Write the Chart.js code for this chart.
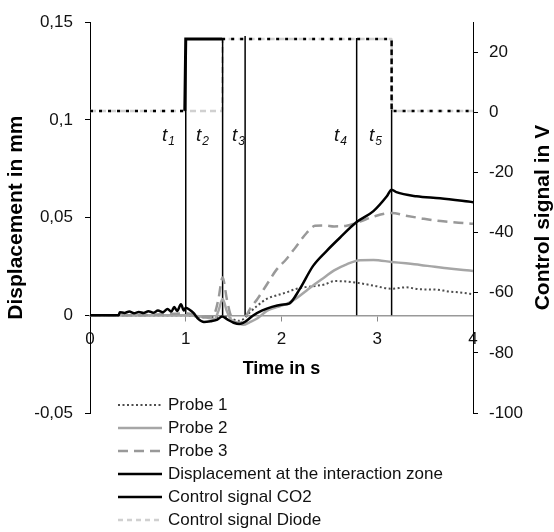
<!DOCTYPE html>
<html>
<head>
<meta charset="utf-8">
<script src="https://cdn.jsdelivr.net/npm/chart.js@4"></script>
<style>
  body { margin: 0; background: #fff; }
  canvas { display: block; }
</style>
</head>
<body>
<canvas id="chart" width="554" height="532" style="width:554px;height:532px"></canvas>
<script>
// probe measurements (displacement in mm over time in s)
const timeProbe = [0, 0.5, 1.0, 1.2, 1.3, 1.34, 1.385, 1.43, 1.47, 1.55, 1.6, 1.67, 1.75, 1.85, 1.95,
  2.05, 2.15, 2.26, 2.35, 2.45, 2.55, 2.68, 2.82, 2.96, 3.15, 3.3, 3.45, 3.6, 3.75, 3.9, 4.0]
const probe1 = [0, 0, 0, -0.001, -0.001, -0.001, -0.0008, -0.001, -0.0015, -0.0028, -0.002, 0.0015, 0.005, 0.0085, 0.0102,
  0.0117, 0.0135, 0.0145, 0.015, 0.0158, 0.0175, 0.0173, 0.0164, 0.0152, 0.0136, 0.0143, 0.0133, 0.0132, 0.0122, 0.0115, 0.0108]
const probe2 = [0, 0, 0, -0.001, -0.002, 0.002, 0.0083, 0.002, -0.002, -0.004, -0.0049, -0.0035, -0.0015, 0.0024, 0.0042,
  0.0058, 0.0085, 0.0126, 0.016, 0.0195, 0.023, 0.0261, 0.0282, 0.0283, 0.0273, 0.0266, 0.0258, 0.0248, 0.024, 0.0232, 0.0227]
const probe3 = [0, 0, 0.001, -0.001, 0.001, 0.008, 0.0193, 0.008, 0, -0.004, -0.003, 0.0032, 0.0085, 0.016, 0.0235,
  0.0287, 0.035, 0.042, 0.0458, 0.046, 0.0455, 0.0458, 0.048, 0.0505, 0.0524, 0.051, 0.0497, 0.0485, 0.0478, 0.0472, 0.0468]

// displacement at the interaction zone (noisier, sampled finer)
const timeDisp = [0, 0.3, 0.31, 0.36, 0.41, 0.46, 0.51, 0.56, 0.61, 0.66, 0.71, 0.76, 0.81, 0.85, 0.88, 0.91,
  0.95, 0.98, 1.0, 1.04, 1.08, 1.13, 1.19, 1.26, 1.33, 1.38, 1.43, 1.5, 1.56, 1.63, 1.7, 1.8, 1.9, 2.0,
  2.08, 2.19, 2.33, 2.47, 2.61, 2.785, 2.96, 3.1, 3.15, 3.2, 3.41, 3.655, 4.0]
const dispZone = [0, 0, 0.0016, 0.0012, 0.0019, 0.0011, 0.0017, 0.0012, 0.0021, 0.0013, 0.0024, 0.0016, 0.0032, 0.0019, 0.0042, 0.0022,
  0.0056, 0.0024, 0.0038, 0.0028, 0.0012, -0.0018, -0.0034, -0.003, -0.0022, -0.0006, -0.002, -0.0038, -0.0045, -0.003, -0.0002, 0.0025, 0.0043, 0.0054,
  0.006, 0.0134, 0.0253, 0.0329, 0.0397, 0.0477, 0.0533, 0.0609, 0.0643, 0.063, 0.0609, 0.0599, 0.0579]

// control signals in V
const timeCO2 = [0, 0.99, 1.0, 1.38, 3.15, 3.15, 4.0]
const co2Signal = [0.5, 0.5, 24.4, 24.4, 24.4, 0.5, 0.5]
const co2PulseEnd = 1.38
const timeDiode = [0, 1.38, 1.385, 3.15, 3.155, 4.0]
const diodeSignal = [0.5, 0.5, 24.4, 24.4, 0.5, 0.5]

// time marks t1..t5
const markerTimes = [1.0, 1.385, 1.62, 2.785, 3.15]
const markerTops = [0.1419, 0.1419, 0.1429, 0.1419, 0.1052]
const markerSubs = ['1', '2', '3', '4', '5']
const markerLabelTimes = [0.815, 1.17, 1.545, 2.61, 2.977]
const markerLabelValue = 0.089

// axis ticks
const leftTicks = [-0.05, 0, 0.05, 0.1, 0.15]
const rightTicks = [-100, -80, -60, -40, -20, 0, 20]

const FONT = '"Liberation Sans", Arial, sans-serif'

const pts = (xs, ys) => xs.map((x, i) => ({ x, y: ys[i] }))

function markerPoints() {
  const out = []
  markerTimes.forEach((t, i) => {
    out.push({ x: t, y: 0 }, { x: t, y: markerTops[i] }, { x: t, y: null })
  })
  return out
}

// 범례: 세로로 한 줄씩
const legendOrder = [0, 1, 2, 3, 4, 5]
const legendPlugin = {
  id: 'stackedLegend',
  afterDraw(chart) {
    const ctx = chart.ctx
    ctx.save()
    ctx.font = '17px ' + FONT
    ctx.textBaseline = 'middle'
    legendOrder.forEach((idx, row) => {
      const ds = chart.data.datasets[idx]
      const y = 405 + row * 23
      ctx.beginPath()
      ctx.strokeStyle = ds.borderColor
      ctx.lineWidth = ds.borderWidth
      ctx.setLineDash(ds.legendDash || ds.borderDash || [])
      ctx.moveTo(118, y)
      ctx.lineTo(162, y)
      ctx.stroke()
      ctx.setLineDash([])
      ctx.fillStyle = '#111'
      ctx.fillText(ds.label, 168, y)
    })
    ctx.restore()
  }
}

// t1..t5 labels and right axis title
const annotationPlugin = {
  id: 'marks',
  afterDraw(chart) {
    const { ctx, chartArea } = chart
    const xs = chart.scales.x
    const ys = chart.scales.y
    ctx.save()
    ctx.fillStyle = '#111'
    ctx.textBaseline = 'alphabetic'
    markerSubs.forEach((sub, i) => {
      const px = xs.getPixelForValue(markerLabelTimes[i])
      const py = ys.getPixelForValue(markerLabelValue)
      ctx.font = 'italic 19px ' + FONT
      const w1 = ctx.measureText('t').width
      ctx.font = 'italic 12px ' + FONT
      const w2 = ctx.measureText(sub).width
      const start = px - (w1 + w2) / 2
      ctx.font = 'italic 19px ' + FONT
      ctx.fillText('t', start, py)
      ctx.font = 'italic 12px ' + FONT
      ctx.fillText(sub, start + w1 + 1, py + 4)
    })
    ctx.translate(543, (chartArea.top + chartArea.bottom) / 2)
    ctx.rotate(-Math.PI / 2)
    ctx.font = 'bold 21px ' + FONT
    ctx.textAlign = 'center'
    ctx.textBaseline = 'middle'
    ctx.fillStyle = '#000'
    ctx.fillText('Control signal in V', 0, 0)
    ctx.restore()
  }
}

const tickFont = { family: FONT, size: 17 }

new Chart(document.getElementById('chart'), {
  type: 'line',
  data: {
    datasets: [
      { label: 'Probe 1', data: pts(timeProbe, probe1), yAxisID: 'y', borderColor: '#4d4d4d', borderWidth: 2, borderDash: [2, 2.5], order: 4 },
      { label: 'Probe 2', data: pts(timeProbe, probe2), yAxisID: 'y', borderColor: '#a6a6a6', borderWidth: 2.5, order: 3 },
      { label: 'Probe 3', data: pts(timeProbe, probe3), yAxisID: 'y', borderColor: '#999', borderWidth: 2.5, borderDash: [10, 6], order: 2 },
      { label: 'Displacement at the interaction zone', data: pts(timeDisp, dispZone), yAxisID: 'y', borderColor: '#000', borderWidth: 2.5, order: 1 },
      {
        label: 'Control signal CO2', data: pts(timeCO2, co2Signal), yAxisID: 'y2', borderColor: '#000', borderWidth: 2.5, order: 6,
        cubicInterpolationMode: 'default', tension: 0,
        segment: {
          borderDash: c => (c.p0.parsed.x >= 0.99 && c.p1.parsed.x <= co2PulseEnd ? [] : [3, 6]),
          borderWidth: c => (c.p0.parsed.x >= 0.99 && c.p1.parsed.x <= co2PulseEnd ? 3 : 2.5)
        }
      },
      { label: 'Control signal Diode', data: pts(timeDiode, diodeSignal), yAxisID: 'y2', borderColor: '#d0d0d0', borderWidth: 2.5, borderDash: [6, 4], legendDash: [5, 4], order: 7, tension: 0 },
      { label: 'marks', data: markerPoints(), yAxisID: 'y', borderColor: '#000', borderWidth: 1.5, spanGaps: false, order: 5, tension: 0 }
    ]
  },
  options: {
    responsive: false,
    animation: false,
    events: [],
    elements: {
      point: { radius: 0 },
      line: { cubicInterpolationMode: 'monotone', borderCapStyle: 'butt' }
    },
    layout: { padding: { top: 4, bottom: 119, left: 0, right: 0 } },
    plugins: {
      legend: { display: false },
      tooltip: { enabled: false }
    },
    scales: {
      x: {
        type: 'linear',
        min: 0,
        max: 4,
        position: { y: 0 },
        ticks: { stepSize: 1, color: '#111', font: tickFont, padding: 9, maxRotation: 0 },
        grid: { drawOnChartArea: false, tickLength: 5, color: '#888' },
        border: { color: '#999', width: 1.5 },
        title: { display: true, text: 'Time in s', color: '#000', font: { family: FONT, size: 18, weight: 'bold' }, padding: { top: 4, bottom: 4 } },
        afterFit: s => { s.height = 69 }
      },
      y: {
        position: 'left',
        min: -0.05,
        max: 0.15,
        afterBuildTicks: s => { s.ticks = leftTicks.map(v => ({ value: v })) },
        ticks: {
          color: '#111', font: tickFont, padding: 12,
          callback: v => (v === 0 ? '0' : String(+v.toFixed(2)).replace('.', ','))
        },
        grid: { drawOnChartArea: false, tickLength: 5, color: '#000' },
        border: { color: '#000', width: 1 },
        title: { display: true, text: 'Displacement in mm', color: '#000', font: { family: FONT, size: 21, weight: 'bold' }, padding: { top: 4, bottom: 0 } },
        afterFit: s => { s.width = 90 }
      },
      y2: {
        position: 'right',
        min: -100,
        max: 30,
        afterBuildTicks: s => { s.ticks = rightTicks.map(v => ({ value: v })) },
        ticks: { color: '#111', font: tickFont, padding: 11 },
        grid: { drawOnChartArea: false, tickLength: 5, color: '#000' },
        border: { color: '#000', width: 1 },
        afterFit: s => { s.width = 81 }
      }
    }
  },
  plugins: [legendPlugin, annotationPlugin]
})
</script>
</body>
</html>
